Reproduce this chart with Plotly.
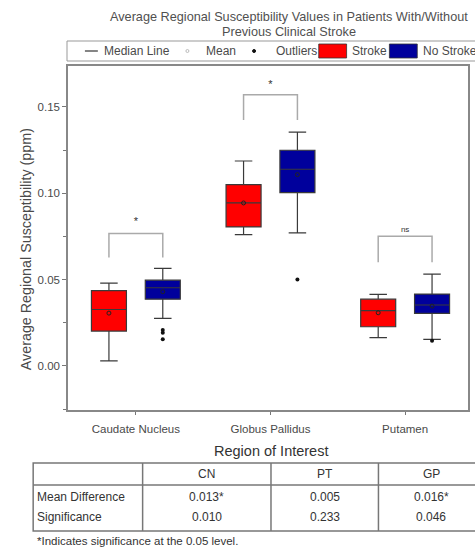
import plotly.graph_objects as go

# ---------------- data ----------------
regions = ["Caudate Nucleus", "Globus Pallidus", "Putamen"]
region_pos = [0, 1, 2]
group_offset = {"Stroke": -0.2, "No Stroke": 0.2}

stroke_low = [0.0029, 0.0761, 0.0164]
stroke_q1 = [0.0202, 0.0805, 0.0227]
stroke_med = [0.0327, 0.0944, 0.0320]
stroke_q3 = [0.0436, 0.1050, 0.0387]
stroke_high = [0.0480, 0.1187, 0.0414]
stroke_mean = [0.0306, 0.0944, 0.0308]

nostroke_low = [0.0275, 0.0771, 0.0154]
nostroke_q1 = [0.0387, 0.1004, 0.0305]
nostroke_med = [0.0453, 0.1139, 0.0353]
nostroke_q3 = [0.0497, 0.1249, 0.0416]
nostroke_high = [0.0565, 0.1354, 0.0532]
nostroke_mean = [0.0430, 0.1108, 0.0347]

nostroke_outlier_region = [0, 0, 0, 1, 2]
nostroke_outlier_vals = [0.0208, 0.0192, 0.0155, 0.0501, 0.0146]

bracket_top = [0.0767, 0.1570, 0.0751]
bracket_leg = [0.0628, 0.1425, 0.0600]
bracket_label = ["*", "*", "ns"]
bracket_label_y = [0.0830, 0.1624, 0.0786]

table_cols = ["CN", "PT", "GP"]
mean_diff = ["0.013*", "0.005", "0.016*"]
significance = ["0.010", "0.233", "0.046"]

y_ticks = [0.00, 0.05, 0.10, 0.15]

# ---------------- geometry helpers (pixel -> paper) ----------------
W, H = 475, 548
L, R, T, B = 68, 470, 66, 410


def px(x):
    return (x - L) / (R - L)


def py(y):
    return (B - y) / (B - T)


FONT = "Liberation Sans, Arial, sans-serif"
RED = "#ff0000"
BLUE = "#00009c"
EDGE = "#3a3a3a"
TXT = "#4a4a4a"

fig = go.Figure()

xs_stroke = [p + group_offset["Stroke"] for p in region_pos]
xs_nostroke = [p + group_offset["No Stroke"] for p in region_pos]

for xs, lo, q1, med, q3, hi, col in [
    (xs_stroke, stroke_low, stroke_q1, stroke_med, stroke_q3, stroke_high, RED),
    (xs_nostroke, nostroke_low, nostroke_q1, nostroke_med, nostroke_q3, nostroke_high, BLUE),
]:
    fig.add_trace(go.Box(
        x=xs, q1=q1, median=med, q3=q3, lowerfence=lo, upperfence=hi,
        width=0.26, whiskerwidth=0.5, fillcolor=col,
        line=dict(color=EDGE, width=1.2), boxpoints=False,
        showlegend=False, hoverinfo="skip",
    ))

# means
fig.add_trace(go.Scatter(
    x=xs_stroke + xs_nostroke, y=stroke_mean + nostroke_mean, mode="markers",
    marker=dict(symbol="circle-open", size=4, color="#222", line=dict(width=1)),
    showlegend=False, hoverinfo="skip",
))

# outliers
fig.add_trace(go.Scatter(
    x=[region_pos[r] + group_offset["No Stroke"] for r in nostroke_outlier_region],
    y=nostroke_outlier_vals, mode="markers",
    marker=dict(symbol="circle", size=4, color="#111"),
    showlegend=False, hoverinfo="skip",
))

# significance brackets
for i, p in enumerate(region_pos):
    xl = p + group_offset["Stroke"]
    xr = p + group_offset["No Stroke"]
    fig.add_trace(go.Scatter(
        x=[xl, xl, xr, xr], y=[bracket_leg[i], bracket_top[i], bracket_top[i], bracket_leg[i]],
        mode="lines", line=dict(color="#aaaaaa", width=1.5),
        showlegend=False, hoverinfo="skip",
    ))
    fig.add_trace(go.Scatter(
        x=[p], y=[bracket_label_y[i]], mode="text", text=[bracket_label[i]],
        textfont=dict(family=FONT, size=11 if bracket_label[i] == "*" else 8, color="#333"),
        showlegend=False, hoverinfo="skip",
    ))

shapes = []
ann = []

# title
for ytxt, txt in [(17, "Average Regional Susceptibility Values in Patients With/Without"),
                  (32, "Previous Clinical Stroke")]:
    ann.append(dict(x=px(290), y=py(ytxt), xref="paper", yref="paper", xanchor="center", yanchor="middle",
                    text=txt, showarrow=False, font=dict(family=FONT, size=12.7, color="#505050")))

# legend box
shapes.append(dict(type="rect", xref="paper", yref="paper", x0=px(67), x1=px(488), y0=py(61), y1=py(41),
                   line=dict(color="#999", width=1), fillcolor="white"))
ly = py(51)
shapes.append(dict(type="line", xref="paper", yref="paper", x0=px(85), x1=px(98), y0=ly, y1=ly,
                   line=dict(color="#333", width=1.2)))
shapes.append(dict(type="circle", xref="paper", yref="paper", x0=px(186.5), x1=px(189.5),
                   y0=py(52.5), y1=py(49.5), line=dict(color="#bbb", width=1)))
shapes.append(dict(type="circle", xref="paper", yref="paper", x0=px(253.5), x1=px(256.5),
                   y0=py(52.5), y1=py(49.5), line=dict(color="#111", width=1), fillcolor="#111"))
shapes.append(dict(type="rect", xref="paper", yref="paper", x0=px(320), x1=px(348), y0=py(58), y1=py(44),
                   line=dict(color="#333", width=0.8), fillcolor=RED))
shapes.append(dict(type="rect", xref="paper", yref="paper", x0=px(391), x1=px(419), y0=py(58), y1=py(44),
                   line=dict(color="#333", width=0.8), fillcolor=BLUE))
for xpos, txt in [(102, "Median Line"), (205, "Mean"), (275, "Outliers"), (351, "Stroke"), (423, "No Stroke")]:
    ann.append(dict(x=px(xpos), y=ly, xref="paper", yref="paper", xanchor="left", yanchor="middle",
                    text=txt, showarrow=False, font=dict(family=FONT, size=12, color=TXT)))

# y-axis title
ann.append(dict(x=px(26), y=py(249), xref="paper", yref="paper", xanchor="center", yanchor="middle",
                text="Average Regional Susceptibility (ppm)", textangle=-90,
                showarrow=False, font=dict(family=FONT, size=14.3, color=TXT)))
# x-axis title
ann.append(dict(x=px(272), y=py(451), xref="paper", yref="paper", xanchor="center", yanchor="middle",
                text="Region of Interest", showarrow=False, font=dict(family=FONT, size=14.5, color="#333")))

# table
tl, tr = 33, 486
ttop, thead, tbot = 463, 485, 531
col_div = [143, 272, 380]
tline = dict(color="#777", width=1.5)
shapes.append(dict(type="rect", xref="paper", yref="paper", x0=px(tl), x1=px(tr), y0=py(tbot), y1=py(ttop),
                   line=tline))
shapes.append(dict(type="line", xref="paper", yref="paper", x0=px(tl), x1=px(tr), y0=py(thead), y1=py(thead),
                   line=tline))
for cx in col_div:
    shapes.append(dict(type="line", xref="paper", yref="paper", x0=px(cx), x1=px(cx), y0=py(tbot), y1=py(ttop),
                       line=tline))
col_bounds = col_div + [tr]
TF = dict(family=FONT, size=12, color="#333")
for i, name in enumerate(table_cols):
    cxm = (col_bounds[i] + col_bounds[i + 1]) / 2
    ann.append(dict(x=px(cxm), y=py(474), xref="paper", yref="paper", xanchor="center", yanchor="middle",
                    text=name, showarrow=False, font=TF))
    ann.append(dict(x=px(cxm), y=py(497), xref="paper", yref="paper", xanchor="center", yanchor="middle",
                    text=mean_diff[i], showarrow=False, font=TF))
    ann.append(dict(x=px(cxm), y=py(517), xref="paper", yref="paper", xanchor="center", yanchor="middle",
                    text=significance[i], showarrow=False, font=TF))
ann.append(dict(x=px(35), y=py(497), xref="paper", yref="paper", xanchor="left", yanchor="middle",
                text="Mean Difference", showarrow=False, font=TF))
ann.append(dict(x=px(35), y=py(517), xref="paper", yref="paper", xanchor="left", yanchor="middle",
                text="Significance", showarrow=False, font=TF))
ann.append(dict(x=px(35), y=py(541), xref="paper", yref="paper", xanchor="left", yanchor="middle",
                text="*Indicates significance at the 0.05 level.", showarrow=False,
                font=dict(family=FONT, size=11.5, color="#333")))

fig.update_layout(
    width=W, height=H,
    margin=dict(l=L, r=W - R, t=T, b=H - B, pad=0),
    paper_bgcolor="white", plot_bgcolor="white",
    showlegend=False,
    shapes=shapes, annotations=ann,
    xaxis=dict(
        range=[-0.504, 2.467], tickvals=region_pos, ticktext=regions,
        ticks="outside", ticklen=3, tickcolor="#777", ticklabelstandoff=4,
        showline=True, mirror=True, linecolor="#888", linewidth=1.5,
        showgrid=False, zeroline=False,
        tickfont=dict(family=FONT, size=11.5, color=TXT),
    ),
    yaxis=dict(
        range=[-0.0255, 0.1737], tickvals=y_ticks, tickformat=".2f",
        ticks="outside", ticklen=4, tickcolor="#777",
        minor=dict(dtick=0.025, tick0=0, ticks="outside", ticklen=3, tickcolor="#777"),
        showline=True, mirror=True, linecolor="#888", linewidth=1.5,
        showgrid=False, zeroline=False,
        tickfont=dict(family=FONT, size=11.5, color=TXT),
    ),
)

fig.write_html("out.html", config={"displayModeBar": False},
               post_script="document.body.style.margin='0px';")
